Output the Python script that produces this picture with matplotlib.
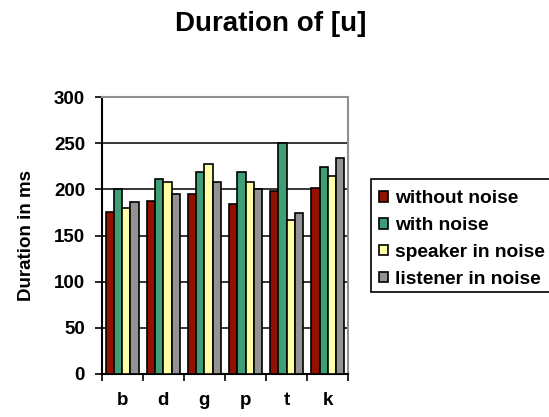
import matplotlib.pyplot as plt
import numpy as np
from matplotlib.patches import Rectangle

plt.rcParams["font.family"] = ["Liberation Sans", "DejaVu Sans"]
plt.rcParams["font.weight"] = "bold"

consonants = ["b", "d", "g", "p", "t", "k"]
without_noise = [176, 187, 195, 184, 198, 202]
with_noise = [200, 211, 219, 219, 250, 224]
speaker_in_noise = [180, 208, 228, 208, 167, 215]
listener_in_noise = [186, 195, 208, 200, 174, 234]

series = [
    ("without noise", without_noise, "#931100"),
    ("with noise", with_noise, "#3e9e76"),
    ("speaker in noise", speaker_in_noise, "#ffffa6"),
    ("listener in noise", listener_in_noise, "#939393"),
]

fs = 13.5

fig = plt.figure(figsize=(5.49, 4.17), dpi=100)
ax = fig.add_axes([0.1852, 0.1038, 0.4492, 0.6628])

x = np.arange(len(consonants))
w = 0.2
for i, (name, vals, col) in enumerate(series):
    ax.bar(x + (i - 1.5) * w, vals, w, color=col, edgecolor="black",
           linewidth=1.2, label=name, zorder=3)

ax.set_xlim(-0.5, len(consonants) - 0.5)
ax.set_ylim(0, 300)
ax.set_yticks(range(0, 301, 50))
ax.yaxis.grid(True, color="black", linewidth=1.1, zorder=0)

# labels at the category centres, tick marks on the boundaries
ax.set_xticks(x)
ax.set_xticklabels(consonants, fontsize=fs, fontweight="bold")
ax.set_xticks(np.arange(-0.5, len(consonants)), minor=True)
ax.tick_params(axis="x", which="major", length=0, pad=13)
ax.tick_params(axis="x", which="minor", length=5, width=1.2, direction="out")
ax.tick_params(axis="y", length=5, width=1.2, labelsize=fs, pad=7)
for lab in ax.get_yticklabels():
    lab.set_fontweight("bold")

ax.spines["left"].set_linewidth(1.5)
ax.spines["bottom"].set_linewidth(1.5)
for side in ("top", "right"):
    ax.spines[side].set_color("#909090")
    ax.spines[side].set_linewidth(1.5)

ax.set_ylabel("Duration in ms", fontsize=fs, fontweight="bold")
ax.yaxis.set_label_coords(-0.27, 0.5)
fig.text(0.493, 0.926, "Duration of [u]", ha="center", va="baseline",
         fontsize=20, fontweight="bold")

# legend box runs off the right edge of the figure
fig.patches.append(Rectangle((0.675, 0.3005), 0.345, 0.2695,
                             transform=fig.transFigure, facecolor="white",
                             edgecolor="black", linewidth=1.2, zorder=1))
leg = fig.legend(loc="upper left", bbox_to_anchor=(0.690, 0.5436),
                 fontsize=13.8, frameon=False,
                 handlelength=0.47, handleheight=0.47, handletextpad=0.36,
                 borderpad=0, labelspacing=0.51, borderaxespad=0)
for t in leg.get_texts():
    t.set_fontweight("bold")

fig.savefig("out.png", dpi=100)
